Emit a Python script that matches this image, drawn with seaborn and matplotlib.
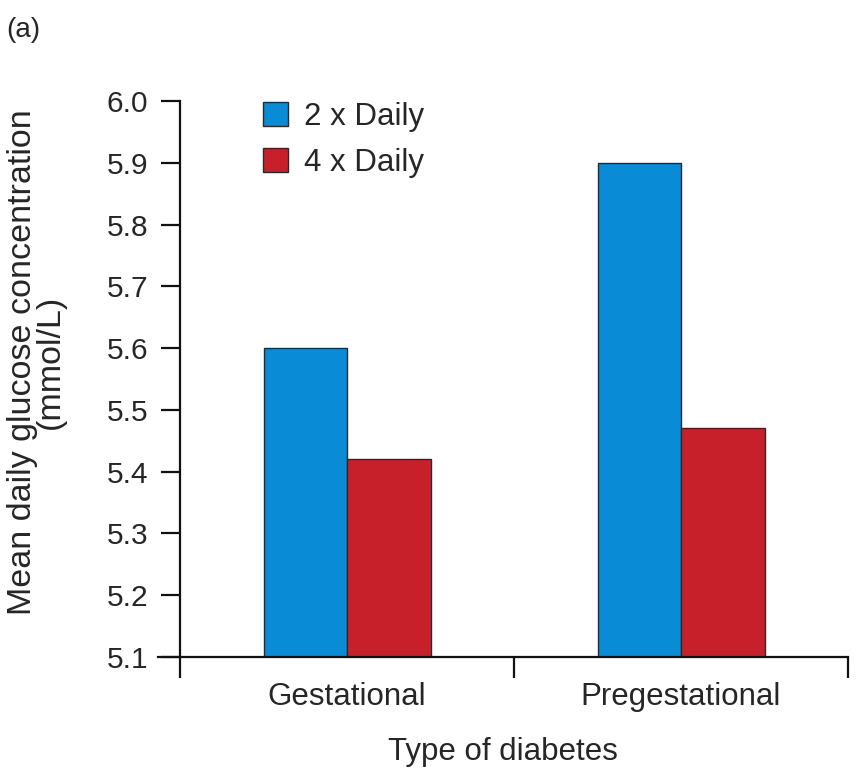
import matplotlib
matplotlib.use("Agg")
import matplotlib.pyplot as plt
import seaborn as sns
import pandas as pd
from matplotlib.patches import Patch

# Data
diabetes_types = ["Gestational", "Pregestational"]
schedules = ["2 x Daily", "4 x Daily"]
glucose_2x = [5.60, 5.90]
glucose_4x = [5.42, 5.47]
y_ticks = [5.1, 5.2, 5.3, 5.4, 5.5, 5.6, 5.7, 5.8, 5.9, 6.0]

df = pd.DataFrame({
    "type": diabetes_types * 2,
    "schedule": [schedules[0]] * 2 + [schedules[1]] * 2,
    "glucose": glucose_2x + glucose_4x,
})

sns.set_theme(style="white")
plt.rcParams["font.family"] = ["Liberation Sans", "DejaVu Sans"]
text_color = "#262626"

palette = {schedules[0]: "#0a8bd6", schedules[1]: "#c8202a"}

fig = plt.figure(figsize=(8.56, 7.72), dpi=100)
ax = fig.add_axes([158 / 856, 1 - 657 / 772, (848 - 158) / 856, (657 - 101) / 772])

sns.barplot(data=df, x="type", y="glucose", hue="schedule", order=diabetes_types,
            hue_order=schedules, palette=palette, width=0.5, gap=0,
            edgecolor="#2a2a2a", linewidth=1.0, saturation=1, legend=False, ax=ax)

ax.set_ylim(5.1, 6.0)
ax.set_xlim(-0.566, 1.5)
ax.spines["left"].set_position(("data", -0.5))
ax.spines["top"].set_visible(False)
ax.spines["right"].set_visible(False)
for s in ("left", "bottom"):
    ax.spines[s].set_linewidth(1.6)
    ax.spines[s].set_color("#111111")

ax.set_yticks(y_ticks)
ax.set_yticklabels([f"{v:.1f}" for v in y_ticks])
ax.tick_params(axis="y", direction="out", length=14, width=1.6, color="#111111",
               labelsize=21.5, labelcolor=text_color, pad=9, left=True)

# Category boundaries as tick marks, category names centred between them
ax.set_xticks([-0.5, 0.5, 1.5])
ax.set_xticklabels(["", "", ""])
ax.set_xticks([0, 1], minor=True)
ax.set_xticklabels(diabetes_types, minor=True)
ax.tick_params(axis="x", which="major", direction="out", length=15, width=1.6,
               color="#111111", bottom=True)
ax.tick_params(axis="x", which="minor", length=0, labelsize=22.5,
               labelcolor=text_color, pad=18)

ax.set_xlabel("Type of diabetes", fontsize=22.5, color=text_color, labelpad=18)
ax.set_ylabel("Mean daily glucose concentration\n(mmol/L)", fontsize=24.5,
              color=text_color, linespacing=0.88)
ax.yaxis.set_label_coords(-0.133, 0.53)

handles = [Patch(facecolor=palette[s], edgecolor="#2a2a2a", linewidth=1.0) for s in schedules]
fig.legend(handles, schedules, loc="upper left",
           bbox_to_anchor=(263 / 856, 1 - 102 / 772), bbox_transform=fig.transFigure,
           frameon=False, fontsize=22.5, labelcolor=text_color,
           handlelength=0.8, handleheight=0.8, handletextpad=0.5,
           labelspacing=0.5, borderpad=0, borderaxespad=0)

fig.text(6 / 856, 1 - 30 / 772, "(a)", fontsize=20, color=text_color, va="center", ha="left")

fig.savefig("out.png", dpi=100)
